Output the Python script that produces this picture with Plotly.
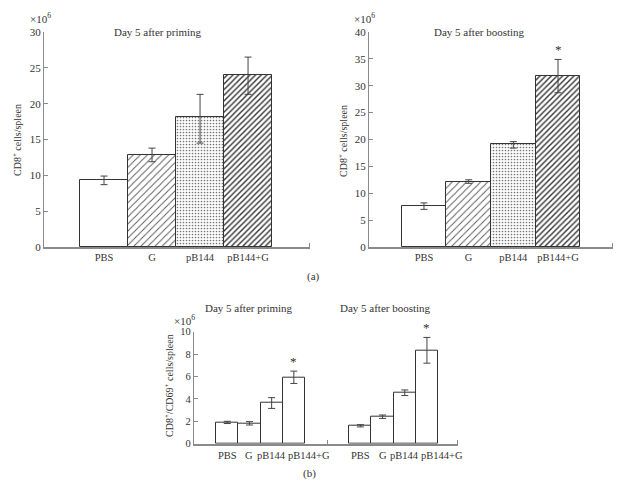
import plotly.graph_objects as go

# ---------------- data ----------------
categories = ["PBS", "G", "pB144", "pB144+G"]

prime_cd8 = [9.4, 12.9, 18.1, 24.0]
prime_cd8_err_plus = [0.5, 0.9, 3.2, 2.5]
prime_cd8_err_minus = [0.7, 1.0, 3.6, 2.7]

boost_cd8 = [7.7, 12.15, 19.1, 31.9]
boost_cd8_err_plus = [0.5, 0.35, 0.5, 3.0]
boost_cd8_err_minus = [0.7, 0.3, 0.7, 3.2]

prime_cd69 = [1.9, 1.82, 3.63, 5.93]
prime_cd69_err = [0.1, 0.15, 0.48, 0.55]
boost_cd69 = [1.6, 2.41, 4.55, 8.34]
boost_cd69_err = [0.1, 0.15, 0.25, 1.15]

a_yticks_left = [0, 5, 10, 15, 20, 25, 30]
a_yticks_right = [0, 5, 10, 15, 20, 25, 30, 35, 40]
b_yticks = [0, 2, 4, 6, 8, 10]

significant_a_right = [False, False, False, True]
significant_b_prime = [False, False, False, True]
significant_b_boost = [False, False, False, True]

# ---------------- style ----------------
FONT = "Liberation Serif"
TXT = "#333333"
AXC = "#8a8a8a"
# page has an 8px body margin; the figure fills the rest of the 628x486 window
OFF = 8
W, H = 628 - OFF, 486 - OFF

pat_shape = ["", "/", ".", "/"]
pat_size = [8, 5, 3, 4]
pat_sol = [0.2, 0.18, 0.25, 0.35]
pat_fg = ["#333", "#555", "#777", "#333"]
b_label_shift = [0, 0, 0, 15]

def px(x):
    return (x - OFF) / W

def py(y):
    return 1 - (y - OFF) / H

fig = go.Figure()

pos = list(range(len(categories)))

def bar_trace(xv, yv, ep, em, xa, ya, patterned):
    marker = dict(color="white", line=dict(color="#333333", width=1))
    if patterned:
        marker["pattern"] = dict(shape=pat_shape, size=pat_size, solidity=pat_sol,
                                 fgcolor=pat_fg, bgcolor="white", fillmode="replace")
    return go.Bar(x=xv, y=yv, xaxis=xa, yaxis=ya, width=1, marker=marker,
                  error_y=dict(type="data", array=ep, arrayminus=em, symmetric=False,
                               color="#444444", thickness=1, width=3.5),
                  showlegend=False)

fig.add_trace(bar_trace(pos, prime_cd8, prime_cd8_err_plus, prime_cd8_err_minus, "x", "y", True))
fig.add_trace(bar_trace(pos, boost_cd8, boost_cd8_err_plus, boost_cd8_err_minus, "x2", "y2", True))
pos_b1 = pos
pos_b2 = [p + 6 for p in pos]
fig.add_trace(bar_trace(pos_b1, prime_cd69, prime_cd69_err, prime_cd69_err, "x3", "y3", False))
fig.add_trace(bar_trace(pos_b2, boost_cd69, boost_cd69_err, boost_cd69_err, "x3", "y3", False))

def tf(size):
    return dict(family=FONT, size=size, color=TXT)

def xaxis(domain, rng, tickvals, ticktext, minor_vals, anchor, size=10.5):
    return dict(domain=domain, range=rng, anchor=anchor, showgrid=False, zeroline=False,
                showline=True, linecolor=AXC, linewidth=1.5, tickvals=tickvals,
                ticktext=ticktext, ticks="", tickfont=tf(size), tickangle=0,
                automargin=False,
                minor=dict(tickvals=minor_vals, ticks="inside", ticklen=4,
                           tickcolor=AXC, showgrid=False))

def yaxis(domain, rng, tickvals, anchor, size=11):
    return dict(domain=domain, range=rng, anchor=anchor, showgrid=False, zeroline=False,
                showline=True, linecolor=AXC, linewidth=1.2, tickvals=tickvals,
                ticks="inside", ticklen=4, tickcolor=AXC, tickfont=tf(size),
                automargin=False)

fig.update_layout(
    width=W, height=H, margin=dict(l=0, r=0, t=0, b=0, autoexpand=False),
    paper_bgcolor="white", plot_bgcolor="white",
    barmode="overlay", bargap=0,
    font=dict(family=FONT, size=11, color=TXT),
    xaxis=xaxis([px(44), px(310)], [-1.25, 4.29], pos, categories, [4.27], "y"),
    yaxis=yaxis([py(247), py(32)], [0, 30], a_yticks_left, "x"),
    xaxis2=xaxis([px(369), px(613)], [-1.23, 4.23], pos, categories, [4.21], "y2"),
    yaxis2=yaxis([py(247), py(32)], [0, 40], a_yticks_right, "x2"),
    xaxis3=xaxis([px(194), px(458)], [-1.5, 10.4], [], [], [4.5, 10.38], "y3"),
    yaxis3=yaxis([py(443.7), py(331.7)], [0, 10], b_yticks, "x3", size=10.5),
)

ann = []
def text(x, y, s, size=11, angle=0, xanchor="center"):
    ann.append(dict(x=px(x), y=py(y), xref="paper", yref="paper", text=s, showarrow=False,
                    textangle=angle, xanchor=xanchor, yanchor="middle",
                    font=tf(size)))

text(158, 32, "Day 5 after priming")
text(479, 32, "Day 5 after boosting")
text(249, 308, "Day 5 after priming")
text(386, 308, "Day 5 after boosting")
text(40, 18, "×10<sup>6</sup>", size=11)
text(364, 18, "×10<sup>6</sup>", size=11)
text(184, 320, "×10<sup>6</sup>", size=11)
text(17, 140, "CD8<sup>+</sup> cells/spleen", size=10, angle=-90)
text(343, 141, "CD8<sup>+</sup> cells/spleen", size=10, angle=-90)
text(169, 386, "CD8<sup>+</sup>/CD69<sup>+</sup> cells/spleen", size=10, angle=-90)
text(313, 276, "(a)")
text(309, 473, "(b)")

# category labels of panel (b)
for grp in (pos_b1, pos_b2):
    for xv, lab, sh in zip(grp, categories, b_label_shift):
        ann.append(dict(x=xv, y=0, xref="x3", yref="y3", text=lab, showarrow=False,
                        xanchor="center", yanchor="top", yshift=-4, xshift=sh,
                        font=tf(10.5)))

def stars(xs, ys, eps, flags, xr, yr):
    for xv, yv, e, f in zip(xs, ys, eps, flags):
        if f:
            ann.append(dict(x=xv, y=yv + e, xref=xr, yref=yr, text="*", showarrow=False,
                            yanchor="bottom", yshift=0,
                            font=tf(13)))

stars(pos, boost_cd8, boost_cd8_err_plus, significant_a_right, "x2", "y2")
stars(pos_b1, prime_cd69, prime_cd69_err, significant_b_prime, "x3", "y3")
stars(pos_b2, boost_cd69, boost_cd69_err, significant_b_boost, "x3", "y3")

fig.update_layout(annotations=ann)
fig.write_html("out.html")
